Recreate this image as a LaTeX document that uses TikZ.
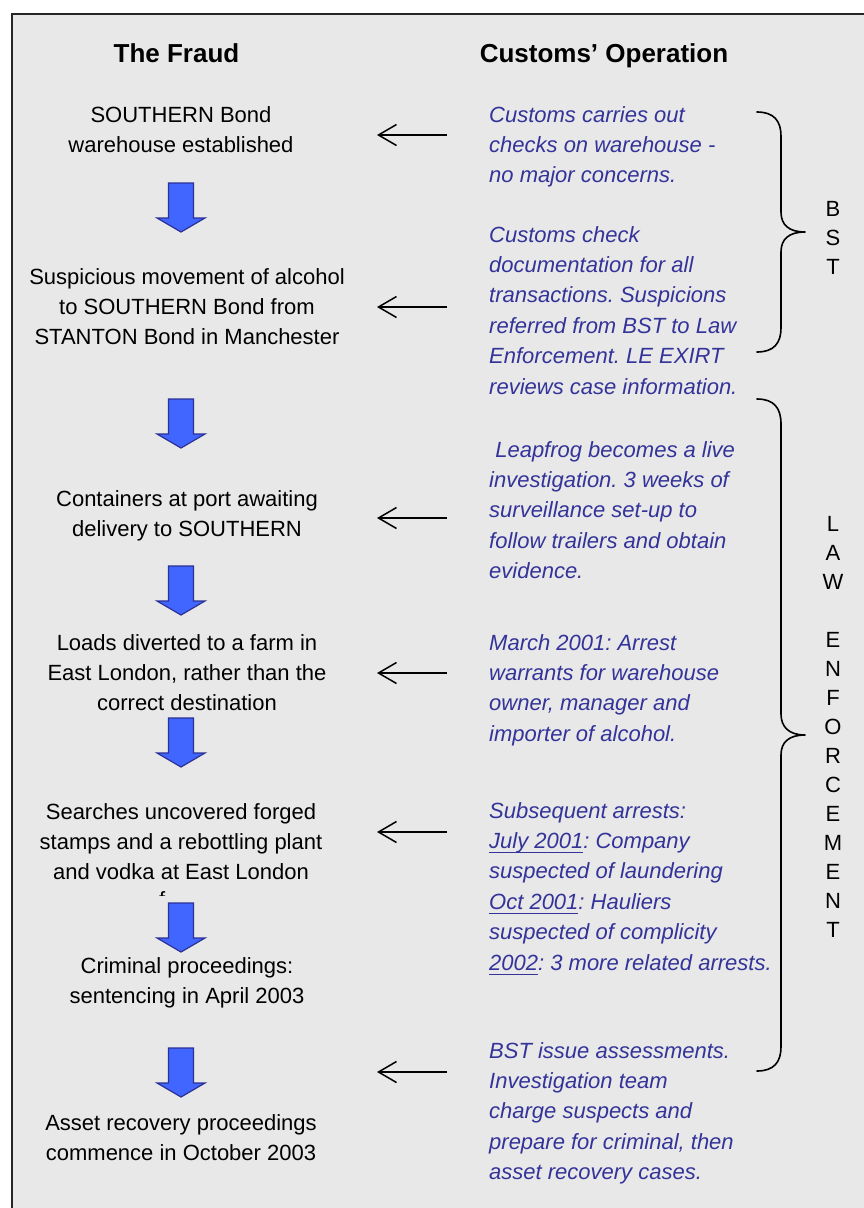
\documentclass[tikz,border=0pt]{standalone}
\usepackage{fontspec}
\setmainfont{Liberation Sans}
\usetikzlibrary{arrows.meta}
\frenchspacing

\definecolor{panel}{RGB}{232,232,232}
\definecolor{opblue}{RGB}{51,51,153}
\definecolor{arrowfill}{RGB}{64,102,255}
\definecolor{arrowedge}{RGB}{44,48,150}

% underline drawn as a rule a little below the baseline
\newcommand\opul[1]{\setbox0\hbox{#1}\rlap{\rule[-5pt]{\wd0}{1.4pt}}\box0}

\tikzset{
  blockarrow/.pic={
    \path[fill=arrowfill, draw=arrowedge, line width=1.2pt, line join=miter]
      (-12.5,0) -- (12.5,0) -- (12.5,35) -- (24,35) -- (0,49)
      -- (-24,35) -- (-12.5,35) -- cycle;
  }
}

\begin{document}
% multi-line nodes are placed by the baseline of their last line
\begin{tikzpicture}[x=1pt,y=-1pt,
  fraudtext/.style={anchor=base, align=center, inner sep=0,
    font=\fontsize{22}{30}\selectfont},
  optext/.style={anchor=base west, align=left, inner sep=0, text=opblue,
    font=\fontsize{22}{30.4}\selectfont\itshape},
  heading/.style={anchor=base, inner sep=0,
    font=\fontsize{26}{30}\selectfont\bfseries},
  teamtext/.style={anchor=base, align=center, inner sep=0,
    font=\fontsize{22}{29}\selectfont},
  pointer/.style={line width=1.5pt,
    -{Straight Barb[length=18pt,width=21pt,line width=1.5pt]}},
  bracket/.style={line width=1.6pt, line cap=round, line join=round}
]
\useasboundingbox (0,0) rectangle (864,1208);
\fill[white] (0,0) rectangle (864,1208);

% panel frame, running off the right and bottom edges
\begin{scope}
  \clip (0,0) rectangle (864,1208);
  \draw[line width=2pt, draw=black!85, fill=panel] (12,14) rectangle (890,1240);
\end{scope}

% column headings
\node[heading] (hfraud) at (176.5,62) {The Fraud};
\node[heading] (hops)   at (604,62)   {Customs’ Operation};

% the fraud, step by step
\node[fraudtext] (f1) at (181,152)  {SOUTHERN Bond\\warehouse established};
\node[fraudtext] (f2) at (187,344)  {Suspicious movement of alcohol\\to SOUTHERN Bond from\\STANTON Bond in Manchester};
\node[fraudtext] (f3) at (187,536)  {Containers at port awaiting\\delivery to SOUTHERN};
\node[fraudtext] (f4) at (187,710)  {Loads diverted to a farm in\\East London, rather than the\\correct destination};
\node[fraudtext] (f5) at (181,879)  {Searches uncovered forged\\stamps and a rebottling plant\\and vodka at East London};
% next line of this box is cut off, leaving only the top of its first letter
\begin{scope}
  \clip (150,886) rectangle (167,895.5);
  \node[fraudtext] (f5b) at (181,907.5) {farm};
\end{scope}
\node[fraudtext] (f6) at (187,1003) {Criminal proceedings:\\sentencing in April 2003};
\node[fraudtext] (f7) at (181,1160) {Asset recovery proceedings\\commence in October 2003};

% block arrows between the steps
\pic at (181,183)  {blockarrow};
\pic at (181,399)  {blockarrow};
\pic at (181,566)  {blockarrow};
\pic at (181,718)  {blockarrow};
\pic at (181,903)  {blockarrow};
\pic at (181,1048) {blockarrow};

% customs' operation
\node[optext] (o1) at (489,182.8) {Customs carries out\\checks on warehouse -\\no major concerns.};
\node[optext] (o2) at (489,394)   {Customs check\\documentation for all\\transactions. Suspicions\\referred from BST to Law\\Enforcement. LE EXIRT\\reviews case information.};
\node[optext] (o3) at (489,578.6) {\hspace*{0.278em}Leapfrog becomes a live\\investigation. 3 weeks of\\surveillance set-up to\\follow trailers and obtain\\evidence.};
\node[optext] (o4) at (489,741.2) {March 2001: Arrest\\warrants for warehouse\\owner, manager and\\importer of alcohol.};
\node[optext] (o5) at (489,970)   {Subsequent arrests:\\\opul{July 2001}: Company\\suspected of laundering\\\opul{Oct 2001}: Hauliers\\suspected of complicity\\\opul{2002}: 3 more related arrests.};
\node[optext] (o6) at (489,1179.6) {BST issue assessments.\\Investigation team\\charge suspects and\\prepare for criminal, then\\asset recovery cases.};

% pointers from the operation to the fraud
\foreach \i/\y in {1/135, 2/307, 3/518, 4/673, 5/832, 6/1072} {
  \coordinate (ps\i) at (447,\y);
  \coordinate (pe\i) at (377,\y);
  \draw[pointer] (ps\i) -- (pe\i);
}

% braces grouping the teams
\draw[bracket] (757,112) .. controls (774,112) and (781,121) .. (781,136)
  -- (781,212) .. controls (781,225) and (789,232) .. (805,232)
  .. controls (789,232) and (781,239) .. (781,252)
  -- (781,328) .. controls (781,343) and (774,352) .. (757,352);
\draw[bracket] (757,399) .. controls (774,399) and (781,408) .. (781,424)
  -- (781,714) .. controls (781,727) and (789,735) .. (805,735)
  .. controls (789,735) and (781,742) .. (781,755)
  -- (781,1047) .. controls (781,1062) and (774,1071) .. (757,1071);

\node[teamtext] (bst) at (833,274) {B\\S\\T};
\node[teamtext] (le)  at (833,937) {L\\A\\W\\ \\E\\N\\F\\O\\R\\C\\E\\M\\E\\N\\T};
\end{tikzpicture}
\end{document}
